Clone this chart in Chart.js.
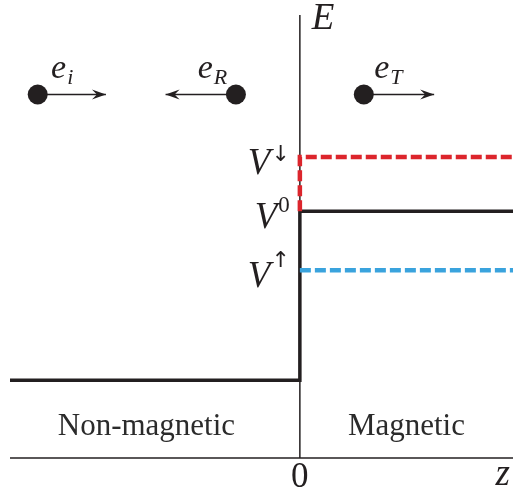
<!DOCTYPE html>
<html lang="en">

<head>
    <meta charset="UTF-8">
    <title>Spin-dependent potential step</title>
    <style>
        html, body { margin: 0; padding: 0; background: #fff; }
    </style>
</head>

<body>
    <canvas id="myChart" width="513" height="490"></canvas>

    <script src="https://cdn.jsdelivr.net/npm/chart.js@4.4.1/dist/chart.umd.min.js"></script>
    <script>
        // axis range (z, E)
        const zRange = [-1.36, 1];
        const eRange = [-0.46, 2.16];

        // black step: non-magnetic level 0, magnetic level V0 = 1
        const stepZ = [-1.36, 0, 0, 1];
        const stepE = [0, 0, 1, 1];

        // spin levels in the magnetic side
        const downZ = [0, 0, 1];
        const downE = [1, 1.32, 1.32];
        const upZ = [0, 1];
        const upE = [0.65, 0.65];

        // level labels V^x
        const levelSup = ['\u2193', '0', '\u2191'];
        const levelE = [1.32, 1, 0.65];

        // electrons: position, arrow tip, subscript
        const electronZ = [-1.23, -0.30, 0.30];
        const electronTip = [-0.91, -0.63, 0.63];
        const electronE = [1.69, 1.69, 1.69];
        const electronSub = ['i', 'R', 'T'];

        const regionNames = ['Non-magnetic', 'Magnetic'];

        const pts = (xs, ys) => xs.map((x, i) => ({ x: x, y: ys[i] }));

        const INK = '#231f20';
        const MATH = 'italic 37px "Liberation Serif"';

        const arrowData = electronZ.map((z, i) => ({
            type: 'line',
            data: [{ x: z, y: electronE[i] }, { x: electronTip[i], y: electronE[i] }],
            borderColor: INK,
            borderWidth: 1.5,
            pointRadius: 0,
            clip: false
        }));

        const textPlugin = {
            id: 'texts',
            afterDatasetsDraw(chart) {
                const ctx = chart.ctx;
                const xs = chart.scales.x, ys = chart.scales.y;
                const area = chart.chartArea;
                const x0 = xs.getPixelForValue(0);
                ctx.save();
                ctx.fillStyle = INK;

                // arrow heads
                electronZ.forEach((z, i) => {
                    const tx = xs.getPixelForValue(electronTip[i]);
                    const ty = ys.getPixelForValue(electronE[i]);
                    const d = electronTip[i] > z ? 1 : -1;
                    ctx.beginPath();
                    ctx.moveTo(tx, ty);
                    ctx.lineTo(tx - 14 * d, ty - 5);
                    ctx.lineTo(tx - 9 * d, ty);
                    ctx.lineTo(tx - 14 * d, ty + 5);
                    ctx.closePath();
                    ctx.fill();
                });

                // electron labels e_i, e_R, e_T
                ctx.textBaseline = 'alphabetic';
                electronZ.forEach((z, i) => {
                    const px = xs.getPixelForValue(z);
                    const py = ys.getPixelForValue(electronE[i]);
                    const d = electronTip[i] > z ? 1 : -1;
                    ctx.font = 'italic 34px "Liberation Serif"';
                    const w1 = ctx.measureText('e').width;
                    ctx.font = 'italic 22px "Liberation Serif"';
                    const w2 = ctx.measureText(electronSub[i]).width;
                    const cx = px + d * 24;
                    const left = cx - (w1 + w2) / 2;
                    ctx.textAlign = 'left';
                    ctx.font = 'italic 34px "Liberation Serif"';
                    ctx.fillText('e', left, py - 16);
                    ctx.font = 'italic 22px "Liberation Serif"';
                    ctx.fillText(electronSub[i], left + w1 + 1, py - 10);
                });

                // V levels
                const supShift = { '\u2193': 4, '0': 1, '\u2191': -3 };
                levelE.forEach((v, i) => {
                    const py = ys.getPixelForValue(v);
                    const isArrow = levelSup[i] !== '0';
                    ctx.font = isArrow ? '22px "DejaVu Sans"' : '23px "Liberation Serif"';
                    const ws = ctx.measureText(levelSup[i]).width;
                    const right = x0 - 10;
                    ctx.textAlign = 'left';
                    ctx.fillText(levelSup[i], right - ws, py + supShift[levelSup[i]]);
                    ctx.font = MATH;
                    ctx.textAlign = 'right';
                    ctx.fillText('V', right - ws - 1, py + 17);
                });

                // axis names and tick
                ctx.font = MATH;
                ctx.textAlign = 'left';
                ctx.fillText('E', x0 + 12, area.top + 14);
                ctx.textAlign = 'right';
                ctx.fillText('z', area.right - 3, area.bottom + 27);
                ctx.font = '35px "Liberation Serif"';
                ctx.textAlign = 'center';
                ctx.fillText('0', x0, area.bottom + 29);

                // region names
                ctx.font = '31px "Liberation Serif"';
                ctx.fillStyle = '#2b2b2b';
                ctx.fillText(regionNames[0], xs.getPixelForValue(-0.72), area.bottom - 23);
                ctx.fillText(regionNames[1], xs.getPixelForValue(0.5), area.bottom - 23);
                ctx.restore();
            }
        };

        const ctx = document.getElementById('myChart').getContext('2d');
        const myChart = new Chart(ctx, {
            type: 'scatter',
            data: {
                datasets: [
                    {
                        // electrons
                        data: pts(electronZ, electronE),
                        backgroundColor: INK,
                        borderWidth: 0,
                        pointRadius: 10,
                        clip: false
                    },
                    {
                        type: 'line',
                        data: pts(downZ, downE),
                        borderColor: '#dc252c',
                        borderWidth: 4.5,
                        borderDash: [11, 4],
                        pointRadius: 0,
                        clip: false
                    },
                    {
                        type: 'line',
                        data: pts(upZ, upE),
                        borderColor: '#3aa3dd',
                        borderWidth: 4.5,
                        borderDash: [11, 4],
                        pointRadius: 0,
                        clip: false
                    },
                    {
                        type: 'line',
                        data: pts(stepZ, stepE),
                        borderColor: INK,
                        borderWidth: 3.5,
                        pointRadius: 0,
                        clip: false
                    },
                    ...arrowData,
                    {
                        // E axis
                        type: 'line',
                        data: [{ x: 0, y: eRange[0] }, { x: 0, y: eRange[1] }],
                        borderColor: INK,
                        borderWidth: 1.5,
                        pointRadius: 0,
                        clip: false
                    },
                    {
                        // z axis
                        type: 'line',
                        data: [{ x: zRange[0], y: eRange[0] }, { x: zRange[1], y: eRange[0] }],
                        borderColor: INK,
                        borderWidth: 1.5,
                        pointRadius: 0,
                        clip: false
                    }
                ]
            },
            options: {
                responsive: false,
                animation: false,
                events: [],
                layout: {
                    autoPadding: false,
                    padding: { left: 10, right: 0, top: 15, bottom: 32 }
                },
                scales: {
                    x: { type: 'linear', min: zRange[0], max: zRange[1], display: false },
                    y: { type: 'linear', min: eRange[0], max: eRange[1], display: false }
                },
                plugins: {
                    legend: { display: false },
                    tooltip: { enabled: false }
                }
            },
            plugins: [textPlugin]
        });
    </script>
</body>

</html>
